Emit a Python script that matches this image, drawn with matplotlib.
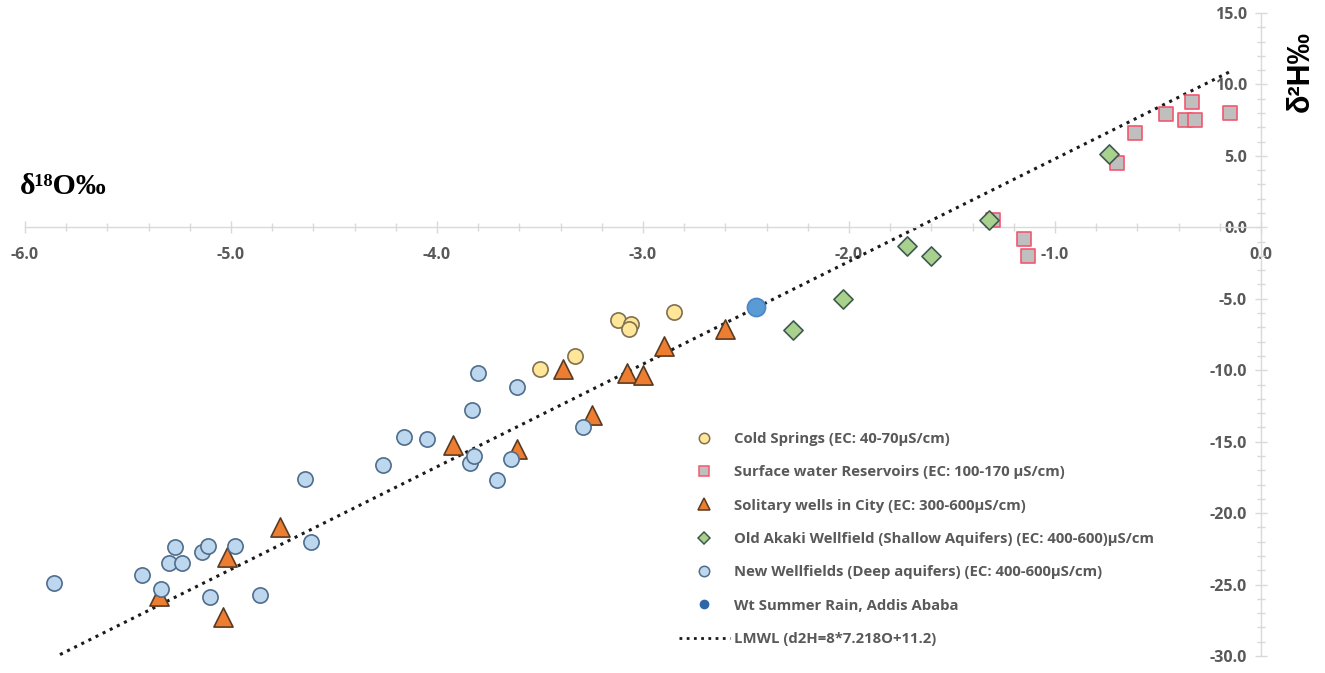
import matplotlib
matplotlib.use("Agg")
import matplotlib.pyplot as plt
from matplotlib.lines import Line2D
from matplotlib.ticker import MultipleLocator, FormatStrFormatter

W, H = 1325, 673
DPI = 100

# -----------------------------
# Data
# -----------------------------
cold_x = [-3.50, -3.33, -3.12, -3.06, -3.07, -2.85]
cold_y = [-9.9, -9.0, -6.5, -6.8, -7.1, -5.9]

surface_x = [-1.30, -1.15, -1.13, -0.70, -0.61, -0.46, -0.37, -0.32, -0.335, -0.15]
surface_y = [0.5, -0.8, -2.0, 4.5, 6.6, 7.9, 7.5, 7.5, 8.8, 8.0]

solitary_x = [-5.35, -5.02, -5.04, -4.76, -3.92, -3.61, -3.39, -3.25, -3.08, -3.00, -2.90, -2.60]
solitary_y = [-25.8, -23.1, -27.3, -21.0, -15.2, -15.5, -9.9, -13.1, -10.2, -10.3, -8.3, -7.1]

akaki_x = [-2.27, -2.03, -1.72, -1.60, -1.32, -0.74]
akaki_y = [-7.2, -5.0, -1.3, -2.0, 0.5, 5.1]

new_x = [-5.86, -5.43, -5.34, -5.30, -5.27, -5.24, -5.14, -5.11, -5.10, -4.98, -4.86,
         -4.64, -4.61, -4.26, -4.16, -4.05, -3.84, -3.83, -3.82, -3.80, -3.71, -3.64,
         -3.61, -3.29]
new_y = [-24.9, -24.3, -25.3, -23.5, -22.4, -23.5, -22.7, -22.3, -25.9, -22.3, -25.7,
         -17.6, -22.0, -16.6, -14.7, -14.8, -16.5, -12.8, -16.0, -10.2, -17.7, -16.2,
         -11.2, -14.0]

rain_x = [-2.45]
rain_y = [-5.6]

lmwl_x = [-5.83, -0.15]
lmwl_y = [-29.9, 10.9]

labels = [
    "Cold Springs (EC: 40-70µS/cm)",
    "Surface water Reservoirs (EC: 100-170 µS/cm)",
    "Solitary wells in City (EC: 300-600µS/cm)",
    "Old Akaki Wellfield (Shallow Aquifers) (EC: 400-600)µS/cm",
    "New Wellfields (Deep aquifers) (EC: 400-600µS/cm)",
    "Wt Summer Rain, Addis Ababa",
    "LMWL (d2H=8*7.218O+11.2)",
]

# -----------------------------
# Styling
# -----------------------------
GREY_TXT = "#595959"
AXIS_GREY = "#d9d9d9"
TICK_FONT = "Open Sans"

fig = plt.figure(figsize=(W / DPI, H / DPI), dpi=DPI)
ax = fig.add_axes([25 / W, (H - 656) / H, (1261 - 25) / W, (656 - 13) / H])
ax.set_xlim(-6.0, 0.0)
ax.set_ylim(-30.0, 15.0)

# axes cross at the origin
ax.spines["left"].set_position(("data", 0))
ax.spines["bottom"].set_position(("data", 0))
ax.spines["top"].set_visible(False)
ax.spines["right"].set_visible(False)
for s in ("left", "bottom"):
    ax.spines[s].set_color(AXIS_GREY)
    ax.spines[s].set_linewidth(1.0)

ax.xaxis.set_major_locator(MultipleLocator(1.0))
ax.xaxis.set_minor_locator(MultipleLocator(0.2))
ax.yaxis.set_major_locator(MultipleLocator(5.0))
ax.yaxis.set_minor_locator(MultipleLocator(1.0))
ax.xaxis.set_major_formatter(FormatStrFormatter("%.1f"))
ax.yaxis.set_major_formatter(FormatStrFormatter("%.1f"))

ax.tick_params(which="both", color=AXIS_GREY, width=1.0)
ax.tick_params(which="major", direction="inout", length=8)
ax.tick_params(which="minor", direction="inout", length=6)
ax.tick_params(axis="x", which="major", pad=10)
ax.tick_params(axis="y", which="major", pad=6)
for lab in ax.get_xticklabels() + ax.get_yticklabels():
    lab.set_fontfamily(TICK_FONT)
    lab.set_fontweight("bold")
    lab.set_fontsize(11.5)
    lab.set_color(GREY_TXT)

# LMWL
ax.plot(lmwl_x, lmwl_y, linestyle=(0, (1, 1.6)), color="#1a1a1a", linewidth=2.2, zorder=2)

series = [
    (cold_x, cold_y, "o", 120, "#ffe699", "#7f7050"),
    (surface_x, surface_y, "s", 95, "#bfbfbf", "#f2576e"),
    (solitary_x, solitary_y, "^", 190, "#ed7d31", "#5a3b22"),
    (akaki_x, akaki_y, "D", 95, "#a9d18e", "#3f5a4c"),
    (new_x, new_y, "o", 120, "#bdd7ee", "#4f6d8c"),
    (rain_x, rain_y, "o", 170, "#5b9bd5", "#4a86c5"),
]
for xs, ys, m, size, fc, ec in series:
    ax.scatter(xs, ys, marker=m, s=size, facecolor=fc, edgecolor=ec, linewidth=1.2, zorder=3)

# legend with smaller proxy markers
handles = [
    Line2D([], [], marker="o", ls="none", ms=7.5, mfc="#ffe699", mec="#7f7050", mew=1.1),
    Line2D([], [], marker="s", ls="none", ms=7.5, mfc="#bfbfbf", mec="#f2576e", mew=1.1),
    Line2D([], [], marker="^", ls="none", ms=8.5, mfc="#ed7d31", mec="#5a3b22", mew=1.1),
    Line2D([], [], marker="D", ls="none", ms=6, mfc="#a9d18e", mec="#3f5a4c", mew=1.1),
    Line2D([], [], marker="o", ls="none", ms=7.5, mfc="#bdd7ee", mec="#4f6d8c", mew=1.1),
    Line2D([], [], marker="o", ls="none", ms=6, mfc="#2e66a8", mec="#2e66a8", mew=1.0),
    Line2D([], [], ls=(0, (1, 1.6)), color="#1a1a1a", lw=2.0),
]
leg = ax.legend(
    handles, labels,
    loc="upper left",
    bbox_to_anchor=(679 / W, 1 - 432 / H),
    bbox_transform=fig.transFigure,
    frameon=False,
    handlelength=3.4,
    handletextpad=0.3,
    labelspacing=1.3,
    borderpad=0,
    borderaxespad=0,
    prop={"family": TICK_FONT, "weight": "bold", "size": 10.7},
)
for t in leg.get_texts():
    t.set_color(GREY_TXT)

# axis titles
fig.text(20 / W, 1 - 186 / H, "δ¹⁸O‰", family=["Liberation Serif", "DejaVu Serif"],
         fontweight="bold", fontsize=21.5, color="black", ha="left", va="center")
fig.text(1301 / W, 1 - 72 / H, "δ²H‰", family=["Liberation Sans", "DejaVu Sans"],
         fontweight="bold", fontsize=22, color="black", ha="center", va="center",
         rotation=90)

fig.savefig("out.png", dpi=DPI, facecolor="white")
plt.close(fig)
